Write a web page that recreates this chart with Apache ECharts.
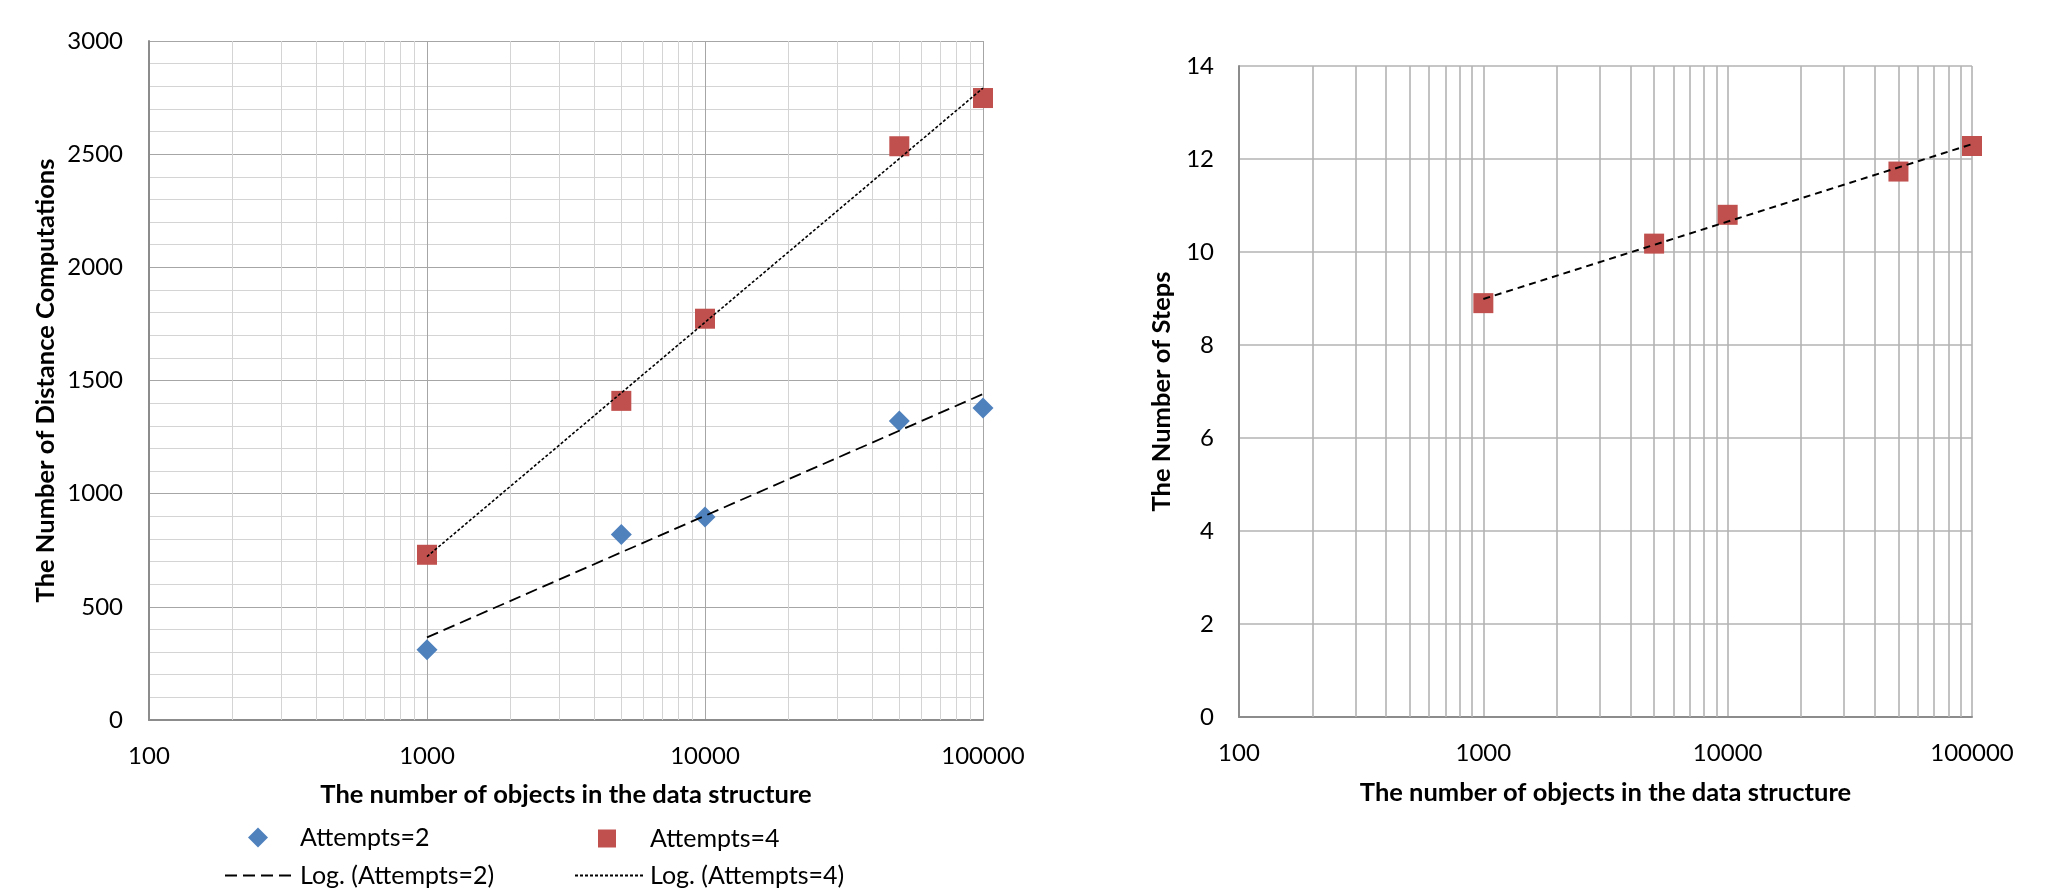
<!DOCTYPE html>
<html>
<head>
<meta charset="utf-8">
<script src="https://cdn.jsdelivr.net/npm/echarts@6/dist/echarts.min.js"></script>
<style>
html,body{margin:0;padding:0;background:#ffffff;}
#chart{width:2058px;height:890px;}
</style>
</head>
<body>
<div id="chart"></div>
<script>
// ---- data ----
const objectCounts = [1000, 5000, 10000, 50000, 100000];
const attempts2 = [310, 820, 897, 1321, 1378];
const attempts4 = [730, 1410, 1773, 2535, 2748];
const stepsAttempts4 = [8.9, 10.18, 10.8, 11.73, 12.28];
// logarithmic trendline end points
const trendX = [1000, 100000];
const trendAttempts2 = [365, 1440];
const trendAttempts4 = [722, 2792];
const trendSteps = [8.99, 12.32];
// tick values
const xTickLabels = ['100', '1000', '10000', '100000'];
const minorXTicks = [200, 300, 400, 500, 600, 700, 800, 900,
                     2000, 3000, 4000, 5000, 6000, 7000, 8000, 9000,
                     20000, 30000, 40000, 50000, 60000, 70000, 80000, 90000];
const leftYTicks = {min: 0, max: 3000, interval: 500};
const rightYTicks = {min: 0, max: 14, interval: 2};

// ---- helpers ----
const FONT = 'Lato';
const zip = (xs, ys) => xs.map((x, i) => [x, ys[i]]);
const logLabel = v => {
  const s = String(Math.round(v));
  return xTickLabels.indexOf(s) >= 0 ? s : '';
};
const axisLineStyle = {color: '#8c8c8c', width: 2};
const tickFont = {fontFamily: FONT, fontSize: 24, color: '#000'};
const titleFont = {fontFamily: FONT, fontSize: 25.5, fontWeight: 'bold', color: '#000'};
const legendText = {fontFamily: FONT, fontSize: 25, color: '#000'};

function minorGrid(color, width) {
  return {
    silent: true,
    symbol: ['none', 'none'],
    z: 1,
    label: {show: false},
    emphasis: {disabled: true},
    lineStyle: {color: color, width: width, type: 'solid'},
    data: minorXTicks.map(v => ({xAxis: v}))
  };
}

function legendItem(name, left, top, w, h, padLeft, hideSymbol) {
  const item = {name: name};
  if (hideSymbol) item.itemStyle = {opacity: 0};
  return {
    left: left, top: top, padding: 0, orient: 'horizontal',
    itemWidth: w, itemHeight: h, selectedMode: false,
    textStyle: Object.assign({padding: [0, 0, 0, padLeft]}, legendText),
    data: [item]
  };
}

const option = {
  backgroundColor: '#ffffff',
  animation: false,
  grid: [
    {left: 149, top: 41, width: 834, height: 679, containLabel: false},
    {left: 1239, top: 66, width: 733, height: 651, containLabel: false}
  ],
  xAxis: [
    {
      gridIndex: 0, type: 'log', logBase: 10, min: 100, max: 100000, interval: 1,
      axisLine: {show: true, onZero: false, lineStyle: axisLineStyle},
      axisTick: {show: false},
      axisLabel: Object.assign({margin: 24, formatter: logLabel, showMinLabel: true, showMaxLabel: true}, tickFont),
      splitLine: {show: true, lineStyle: {color: '#a6a6a6', width: 1}},
      name: 'The number of objects in the data structure',
      nameLocation: 'middle', nameGap: 62, nameTextStyle: titleFont
    },
    {
      gridIndex: 1, type: 'log', logBase: 10, min: 100, max: 100000, interval: 1,
      axisLine: {show: true, onZero: false, lineStyle: axisLineStyle},
      axisTick: {show: false},
      axisLabel: Object.assign({margin: 24, formatter: logLabel, showMinLabel: true, showMaxLabel: true}, tickFont),
      splitLine: {show: true, lineStyle: {color: '#b3b3b3', width: 1.6}},
      name: 'The number of objects in the data structure',
      nameLocation: 'middle', nameGap: 63, nameTextStyle: titleFont
    }
  ],
  yAxis: [
    {
      gridIndex: 0, type: 'value', min: leftYTicks.min, max: leftYTicks.max, interval: leftYTicks.interval,
      axisLine: {show: true, lineStyle: axisLineStyle},
      axisTick: {show: false},
      axisLabel: Object.assign({margin: 26, formatter: v => String(v)}, tickFont),
      splitLine: {show: true, lineStyle: {color: '#a6a6a6', width: 1}},
      minorTick: {show: false, splitNumber: 5},
      minorSplitLine: {show: true, lineStyle: {color: '#d4d4d4', width: 1}},
      name: 'The Number of Distance Computations',
      nameLocation: 'middle', nameGap: 90, nameTextStyle: titleFont
    },
    {
      gridIndex: 1, type: 'value', min: rightYTicks.min, max: rightYTicks.max, interval: rightYTicks.interval,
      axisLine: {show: true, lineStyle: axisLineStyle},
      axisTick: {show: false},
      axisLabel: Object.assign({margin: 25, formatter: v => String(v)}, tickFont),
      splitLine: {show: true, lineStyle: {color: '#b3b3b3', width: 1.6}},
      name: 'The Number of Steps',
      nameLocation: 'middle', nameGap: 64, nameTextStyle: titleFont
    }
  ],
  legend: [
    legendItem('Attempts=2', 248, 825, 20, 20, 27, false),
    legendItem('Attempts=4', 598, 826, 18, 18, 29, false),
    legendItem('Log. (Attempts=2)', 224, 863, 70, 20, 0, true),
    legendItem('Log. (Attempts=4)', 574, 863, 70, 20, 0, true)
  ],
  series: [
    {
      name: 'Attempts=2', type: 'scatter', xAxisIndex: 0, yAxisIndex: 0,
      symbol: 'diamond', symbolSize: 21, clip: false,
      itemStyle: {color: '#4f81bd', opacity: 1},
      data: zip(objectCounts, attempts2)
    },
    {
      name: 'Attempts=4', type: 'scatter', xAxisIndex: 0, yAxisIndex: 0,
      symbol: 'rect', symbolSize: 20, clip: false,
      itemStyle: {color: '#c0504d', opacity: 1},
      data: zip(objectCounts, attempts4)
    },
    {
      name: 'Log. (Attempts=2)', type: 'line', xAxisIndex: 0, yAxisIndex: 0,
      symbol: 'none', clip: false, silent: true,
      lineStyle: {color: '#000', width: 1.8, type: [12, 6]},
      itemStyle: {color: '#000'},
      data: zip(trendX, trendAttempts2),
      markLine: minorGrid('#d4d4d4', 1)
    },
    {
      name: 'Log. (Attempts=4)', type: 'line', xAxisIndex: 0, yAxisIndex: 0,
      symbol: 'none', clip: false, silent: true,
      lineStyle: {color: '#000', width: 1.6, type: [3, 2]},
      itemStyle: {color: '#000'},
      data: zip(trendX, trendAttempts4)
    },
    {
      name: 'Steps (Attempts=4)', type: 'scatter', xAxisIndex: 1, yAxisIndex: 1,
      symbol: 'rect', symbolSize: 20, clip: false,
      itemStyle: {color: '#c0504d', opacity: 1},
      data: zip(objectCounts, stepsAttempts4)
    },
    {
      name: 'Log. (Steps)', type: 'line', xAxisIndex: 1, yAxisIndex: 1,
      symbol: 'none', clip: false, silent: true,
      lineStyle: {color: '#000', width: 2, type: [7, 5]},
      itemStyle: {color: '#000'},
      data: zip(trendX, trendSteps),
      markLine: minorGrid('#b3b3b3', 1.6)
    }
  ]
};

const chart = echarts.init(document.getElementById('chart'), null, {renderer: 'canvas'});
chart.setOption(option);
</script>
</body>
</html>
